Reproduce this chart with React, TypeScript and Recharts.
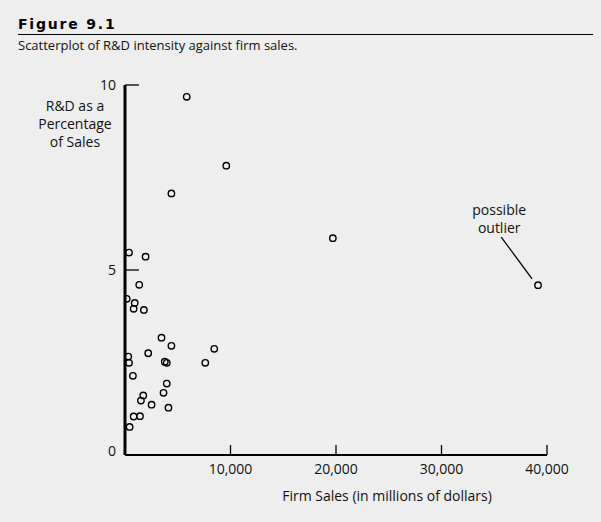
import { ScatterChart, Scatter, XAxis, YAxis, ReferenceLine, ReferenceDot } from "recharts";

// firm sales in millions of dollars
const sales = [
  5850, 9600, 4400, 19700, 39150, 380, 1950, 1350, 160, 920, 820, 1790,
  3460, 4400, 8460, 310, 2200, 380, 3770, 3960, 7610, 750, 3960, 3650,
  1730, 1510, 2520, 4120, 820, 1420, 440,
];
// R&D as a percentage of sales
const rdIntensity = [
  9.68, 7.82, 7.07, 5.86, 4.59, 5.47, 5.36, 4.6, 4.22, 4.11, 3.95, 3.92,
  3.17, 2.95, 2.87, 2.66, 2.75, 2.49, 2.52, 2.49, 2.49, 2.14, 1.93, 1.68,
  1.61, 1.47, 1.36, 1.28, 1.04, 1.05, 0.76,
];
const xTicks = [10000, 20000, 30000, 40000];
const yTicks = [0, 5, 10];

const points = sales.map((s, i) => ({ sales: s, rd: rdIntensity[i] }));

const FONT = "'Open Sans', 'Noto Sans', sans-serif";
const BG = "#eeeeee";

const fmt = (v: number) => String(v).replace(/\B(?=(\d{3})+(?!\d))/g, ",");

function XTick(props: any) {
  const { x, y, payload } = props;
  return (
    <g>
      <line x1={x} y1={y} x2={x} y2={y - 10} stroke="#000" strokeWidth={1.3} />
      <text x={x} y={y + 19} textAnchor="middle" fontSize={14} fontFamily={FONT} fill="#111">
        {fmt(payload.value)}
      </text>
    </g>
  );
}

function YTick(props: any) {
  const { x, y, payload } = props;
  // the zero label sits a little above the x axis in the original
  const dy = payload.value === 0 ? 1 : 5;
  return (
    <g>
      {payload.value > 0 && (
        <line x1={x} y1={y} x2={x + 14} y2={y} stroke="#000" strokeWidth={1.3} />
      )}
      <text x={x - 9} y={y + dy} textAnchor="end" fontSize={14} fontFamily={FONT} fill="#111">
        {payload.value}
      </text>
    </g>
  );
}

function Dot(props: any) {
  return <circle cx={props.cx} cy={props.cy} r={3.2} fill="none" stroke="#000" strokeWidth={1.4} />;
}

function OutlierNote(props: any) {
  const { cx, cy } = props;
  return (
    <text x={cx} y={cy + 5} textAnchor="middle" fontSize={14} fontFamily={FONT} fill="#111">
      <tspan x={cx}>possible</tspan>
      <tspan x={cx} dy={18}>outlier</tspan>
    </text>
  );
}

export default function App() {
  return (
    <div style={{ position: "relative", width: 601, height: 522, background: BG, fontFamily: FONT, color: "#111" }}>
      <style>{`body{margin:0;background:${BG}}`}</style>
      <div
        style={{
          position: "absolute", left: 18, top: 16, fontFamily: "'DejaVu Sans', sans-serif",
          fontWeight: 900, fontSize: 14, letterSpacing: 1.8, color: "#000",
        }}
      >
        Figure 9.1
      </div>
      <div style={{ position: "absolute", left: 18, top: 34, width: 575, height: 0, borderTop: "1.5px solid #000" }} />
      <div style={{ position: "absolute", left: 18, top: 36, fontSize: 13, whiteSpace: "nowrap" }}>
        Scatterplot of R&amp;D intensity against firm sales.
      </div>
      <div
        style={{
          position: "absolute", left: 20, top: 97, width: 110, textAlign: "center",
          fontSize: 14, lineHeight: "18px",
        }}
      >
        R&amp;D as a<br />Percentage<br />of Sales
      </div>
      <div
        style={{
          position: "absolute", left: 387, top: 487, transform: "translateX(-50%)",
          fontSize: 14, lineHeight: "18px", whiteSpace: "nowrap",
        }}
      >
        Firm Sales (in millions of dollars)
      </div>
      <div style={{ position: "absolute", left: 0, top: 0 }}>
        <ScatterChart width={601} height={522} margin={{ top: 85, right: 54, bottom: 0, left: 0 }}>
          <XAxis
            type="number"
            dataKey="sales"
            domain={[0, 40000]}
            ticks={xTicks}
            height={67}
            tickSize={0}
            tickMargin={0}
            tickLine={false}
            axisLine={{ stroke: "#000", strokeWidth: 2 }}
            tick={<XTick />}
            allowDataOverflow
          />
          <YAxis
            type="number"
            dataKey="rd"
            domain={[0, 10]}
            ticks={yTicks}
            width={125}
            tickSize={0}
            tickMargin={0}
            tickLine={false}
            axisLine={{ stroke: "#000", strokeWidth: 3 }}
            tick={<YTick />}
            allowDataOverflow
          />
          <ReferenceLine
            segment={[{ x: 35660, y: 5.89 }, { x: 38585, y: 4.76 }]}
            stroke="#000"
            strokeWidth={1.3}
          />
          <ReferenceDot x={35470} y={6.62} r={0} shape={<OutlierNote />} />
          <Scatter data={points} shape={<Dot />} isAnimationActive={false} />
        </ScatterChart>
      </div>
    </div>
  );
}
